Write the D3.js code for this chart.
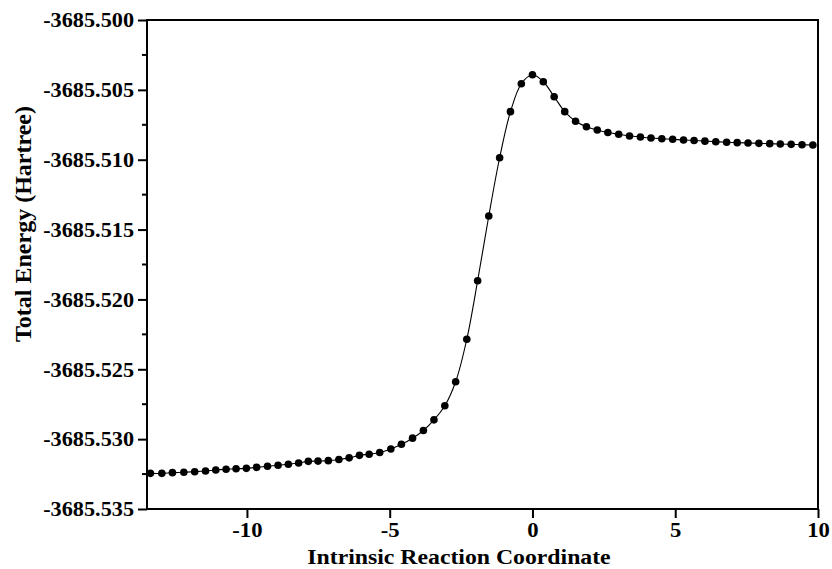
<!DOCTYPE html>
<html>
<head>
<meta charset="utf-8">
<script src="https://cdn.jsdelivr.net/npm/d3@7"></script>
<style>
  html, body { margin: 0; padding: 0; background: #fff; }
  svg { display: block; }
  text { font-family: "Liberation Serif", "Times New Roman", serif; font-weight: bold; fill: #000; }
</style>
</head>
<body>
<svg id="chart" width="832" height="569"></svg>
<script>
// Intrinsic reaction coordinate values
const ircCoord = [
  -13.38, -12.98, -12.61, -12.21, -11.83, -11.45, -11.09, -10.73, -10.38, -10.02,
  -9.66, -9.28, -8.91, -8.55, -8.19, -7.85, -7.51, -7.15, -6.78, -6.42,
  -6.06, -5.72, -5.35, -4.96, -4.59, -4.20, -3.82, -3.45, -3.07, -2.69,
  -2.30, -1.92, -1.53, -1.15, -0.77, -0.39, 0.00,
  0.38, 0.76, 1.13, 1.51, 1.89, 2.27, 2.64, 3.02, 3.40, 3.78,
  4.15, 4.53, 4.91, 5.29, 5.66, 6.04, 6.42, 6.80, 7.17, 7.55,
  7.93, 8.31, 8.68, 9.06, 9.44, 9.82
];
// Total energy in Hartree
const totalEnergy = [
  -3685.53245, -3685.53245, -3685.53240, -3685.53237, -3685.53233, -3685.53228, -3685.53221, -3685.53216, -3685.53212, -3685.53209,
  -3685.53202, -3685.53194, -3685.53187, -3685.53180, -3685.53171, -3685.53159, -3685.53157, -3685.53154, -3685.53146, -3685.53134,
  -3685.53116, -3685.53108, -3685.53096, -3685.53071, -3685.53037, -3685.52993, -3685.52938, -3685.52862, -3685.52761, -3685.52589,
  -3685.52285, -3685.51866, -3685.51403, -3685.50986, -3685.50656, -3685.50456, -3685.50392,
  -3685.50442, -3685.50549, -3685.50656, -3685.50725, -3685.50764, -3685.50787, -3685.50805, -3685.50818, -3685.50830, -3685.50837,
  -3685.50845, -3685.50850, -3685.50854, -3685.50859, -3685.50862, -3685.50867, -3685.50871, -3685.50875, -3685.50878, -3685.50880,
  -3685.50883, -3685.50885, -3685.50888, -3685.50890, -3685.50893, -3685.50895
];
const xTicks = [-10, -5, 0, 5, 10];
const yTicks = [-3685.500, -3685.505, -3685.510, -3685.515, -3685.520, -3685.525, -3685.530, -3685.535];
const yMinorTicks = [-3685.5025, -3685.5075, -3685.5125, -3685.5175, -3685.5225, -3685.5275, -3685.5325];
const xDomain = [-13.5, 10];
const yDomain = [-3685.535, -3685.500];
const xTitle = "Intrinsic Reaction Coordinate";
const yTitle = "Total Energy (Hartree)";

const data = ircCoord.map((x, i) => ({ x: x, y: totalEnergy[i] }));

const margin = { left: 147, right: 14, top: 20, bottom: 60 };
const W = 832, H = 569;
const svg = d3.select("#chart");

const x = d3.scaleLinear().domain(xDomain).range([margin.left, W - margin.right]);
const y = d3.scaleLinear().domain(yDomain).range([H - margin.bottom, margin.top]);

// curve
svg.append("path")
  .datum(data)
  .attr("fill", "none")
  .attr("stroke", "#000")
  .attr("stroke-width", 1.1)
  .attr("d", d3.line().x(d => x(d.x)).y(d => y(d.y)).curve(d3.curveCatmullRom.alpha(0.5)));

// points
svg.append("g").selectAll("circle")
  .data(data)
  .join("circle")
  .attr("cx", d => x(d.x))
  .attr("cy", d => y(d.y))
  .attr("r", 3.8)
  .attr("fill", "#000");

// box frame
const x0 = x.range()[0], x1 = x.range()[1], y0 = y.range()[0], y1 = y.range()[1];
svg.append("rect")
  .attr("x", x0).attr("y", y1)
  .attr("width", x1 - x0).attr("height", y0 - y1)
  .attr("fill", "none").attr("stroke", "#000").attr("stroke-width", 2);

// x axis
const xAxis = svg.append("g")
  .attr("transform", `translate(0,${y0})`)
  .call(d3.axisBottom(x).tickValues(xTicks).tickSize(9).tickPadding(4).tickFormat(d => String(d)));
xAxis.select(".domain").remove();
xAxis.selectAll(".tick line").attr("stroke-width", 2);
xAxis.selectAll(".tick text")
  .style("font-size", "21px").style("font-family", "Liberation Serif").style("font-weight", "bold")
  .attr("transform", "scale(1.08,1)");

// y axis
const yAxis = svg.append("g")
  .attr("transform", `translate(${x0},0)`)
  .call(d3.axisLeft(y).tickValues(yTicks).tickSize(9).tickPadding(4).tickFormat(d => d3.format(".3f")(d).replace("−", "-")));
yAxis.select(".domain").remove();
yAxis.selectAll(".tick line").attr("stroke-width", 2);
yAxis.selectAll(".tick text")
  .style("font-size", "21px").style("font-family", "Liberation Serif").style("font-weight", "bold")
  .attr("x", -13 / 1.06)
  .attr("transform", "scale(1.06,1)");

// y minor ticks
svg.append("g").selectAll("line")
  .data(yMinorTicks)
  .join("line")
  .attr("x1", x0 - 5).attr("x2", x0)
  .attr("y1", d => y(d)).attr("y2", d => y(d))
  .attr("stroke", "#000").attr("stroke-width", 2);

// titles
svg.append("text")
  .attr("transform", "translate(459,564) scale(1.08,1)")
  .attr("text-anchor", "middle")
  .style("font-size", "22px")
  .text(xTitle);

svg.append("text")
  .attr("transform", "translate(31,224) rotate(-90)")
  .attr("text-anchor", "middle")
  .style("font-size", "24px")
  .text(yTitle);
</script>
</body>
</html>
